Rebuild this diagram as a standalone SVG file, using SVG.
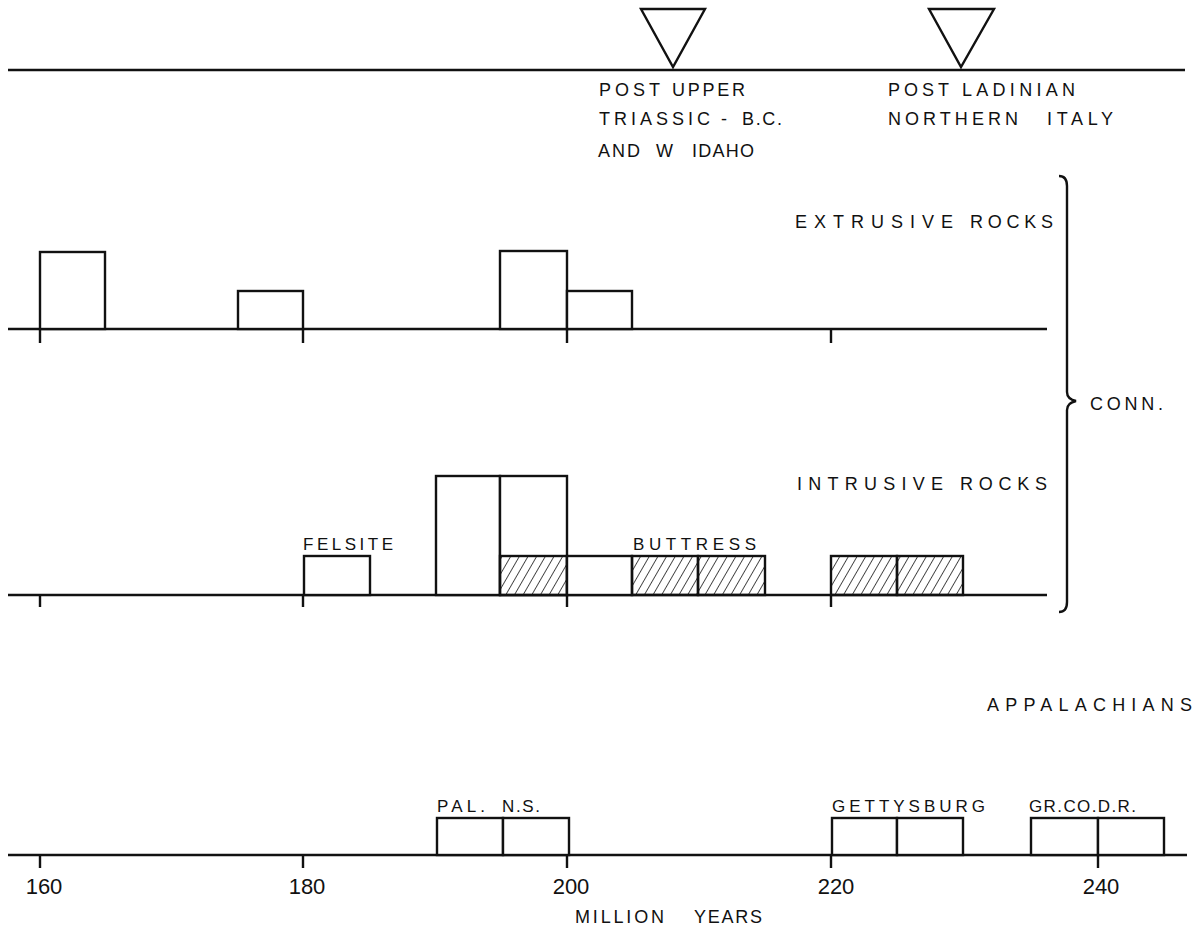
<svg xmlns="http://www.w3.org/2000/svg" width="1202" height="938" viewBox="0 0 1202 938">
<style>
.ln{stroke:#111;stroke-width:2.4;fill:none}
.bx{stroke:#111;stroke-width:2.4;fill:#fff}
.hb{stroke:#111;stroke-width:2.4;fill:url(#hatch)}
.t{font-family:"Liberation Sans",Arial,sans-serif;font-size:18px;fill:#111}
.s{font-family:"Liberation Sans",Arial,sans-serif;font-size:17px;fill:#111}
.n{font-family:"Liberation Sans",Arial,sans-serif;font-size:22px;fill:#111}
</style>
<defs>
<pattern id="hatch" patternUnits="userSpaceOnUse" width="7.5" height="10" patternTransform="rotate(30)">
<line x1="0" y1="0" x2="0" y2="10" stroke="#111" stroke-width="1.5"/>
</pattern>
</defs>
<rect width="1202" height="938" fill="#fff"/>
<g id="connectors">
<line class="ln" x1="8" y1="70" x2="1185" y2="70"/>
<line class="ln" x1="8" y1="329" x2="1047" y2="329"/>
<line class="ln" x1="8" y1="595" x2="1047" y2="595"/>
<line class="ln" x1="8" y1="855" x2="1187" y2="855"/>
<g id="ticks">
<path class="ln" d="M40 329V343M303 329V343M567 329V343M831 329V343"/>
<path class="ln" d="M40 595V607M303 595V607M567 595V607M831 595V607"/>
<path class="ln" d="M40 855V868M303 855V868M567 855V868M831 855V868M1098 855V868"/>
</g>
<path id="brace" class="ln" stroke-width="2" d="M1059 176 Q1067 176 1067 186 L1067 392 Q1067 399 1076 401 Q1067 403 1067 410 L1067 602 Q1067 612 1059 612"/>
</g>
<g id="triangle-upper-triassic"><polygon class="ln" points="641,9 705,9 673,67"/></g>
<g id="triangle-ladinian"><polygon class="ln" points="929,9 994,9 961,67"/></g>
<g id="label-post-upper">
<text class="t" x="599" y="96" textLength="61" lengthAdjust="spacing">POST</text>
<text class="t" x="672" y="96" textLength="73" lengthAdjust="spacing">UPPER</text>
<text class="t" x="599" y="125" textLength="111" lengthAdjust="spacing">TRIASSIC</text>
<text class="t" x="721" y="125">-</text>
<text class="t" x="742" y="125" textLength="40" lengthAdjust="spacing">B.C.</text>
<text class="t" x="598" y="157" textLength="42" lengthAdjust="spacing">AND</text>
<text class="t" x="656" y="157">W</text>
<text class="t" x="692" y="157" textLength="62" lengthAdjust="spacing">IDAHO</text>
</g>
<g id="label-post-ladinian">
<text class="t" x="888" y="96" textLength="61" lengthAdjust="spacing">POST</text>
<text class="t" x="962" y="96" textLength="113" lengthAdjust="spacing">LADINIAN</text>
<text class="t" x="888" y="125" textLength="130" lengthAdjust="spacing">NORTHERN</text>
<text class="t" x="1047" y="125" textLength="66" lengthAdjust="spacing">ITALY</text>
</g>
<g id="extrusive">
<text class="t" x="795" y="228" textLength="158" lengthAdjust="spacing">EXTRUSIVE</text>
<text class="t" x="970" y="228" textLength="83" lengthAdjust="spacing">ROCKS</text>
<rect class="bx" x="40" y="252" width="65" height="77"/>
<rect class="bx" x="238" y="291" width="65" height="38"/>
<rect class="bx" x="500" y="251" width="67" height="78"/>
<rect class="bx" x="567" y="291" width="65" height="38"/>
</g>
<g id="conn"><text class="t" x="1090" y="410" textLength="73" lengthAdjust="spacing">CONN.</text></g>
<g id="intrusive">
<text class="t" x="797" y="490" textLength="146" lengthAdjust="spacing">INTRUSIVE</text>
<text class="t" x="960" y="490" textLength="87" lengthAdjust="spacing">ROCKS</text>
<text class="s" x="303" y="550" textLength="90" lengthAdjust="spacing">FELSITE</text>
<text class="s" x="633" y="550" textLength="123" lengthAdjust="spacing">BUTTRESS</text>
<rect class="bx" x="304" y="556" width="66" height="39"/>
<rect class="bx" x="436" y="476" width="64" height="119"/>
<rect class="bx" x="500" y="476" width="67" height="119"/>
<rect class="hb" x="500" y="556" width="67" height="39"/>
<rect class="bx" x="567" y="556" width="65" height="39"/>
<rect class="hb" x="632" y="556" width="66" height="39"/>
<rect class="hb" x="698" y="556" width="67" height="39"/>
<rect class="hb" x="831" y="556" width="66" height="39"/>
<rect class="hb" x="897" y="556" width="66" height="39"/>
</g>
<g id="appalachians">
<text class="t" x="987" y="711" textLength="205" lengthAdjust="spacing">APPALACHIANS</text>
<text class="s" x="437" y="812" textLength="48" lengthAdjust="spacing">PAL.</text>
<text class="s" x="502" y="812" textLength="38" lengthAdjust="spacing">N.S.</text>
<text class="s" x="832" y="812" textLength="153" lengthAdjust="spacing">GETTYSBURG</text>
<text class="s" x="1029" y="812" textLength="107" lengthAdjust="spacing">GR.CO.D.R.</text>
<rect class="bx" x="437" y="818" width="66" height="37"/>
<rect class="bx" x="503" y="818" width="66" height="37"/>
<rect class="bx" x="832" y="818" width="65" height="37"/>
<rect class="bx" x="897" y="818" width="66" height="37"/>
<rect class="bx" x="1031" y="818" width="67" height="37"/>
<rect class="bx" x="1098" y="818" width="66" height="37"/>
</g>
<g id="axis-labels">
<text class="n" x="44" y="894" text-anchor="middle">160</text>
<text class="n" x="307" y="894" text-anchor="middle">180</text>
<text class="n" x="571" y="894" text-anchor="middle">200</text>
<text class="n" x="836" y="894" text-anchor="middle">220</text>
<text class="n" x="1101" y="894" text-anchor="middle">240</text>
<text class="t" x="575" y="923" textLength="89" lengthAdjust="spacing">MILLION</text>
<text class="t" x="694" y="923" textLength="68" lengthAdjust="spacing">YEARS</text>
</g>
</svg>
